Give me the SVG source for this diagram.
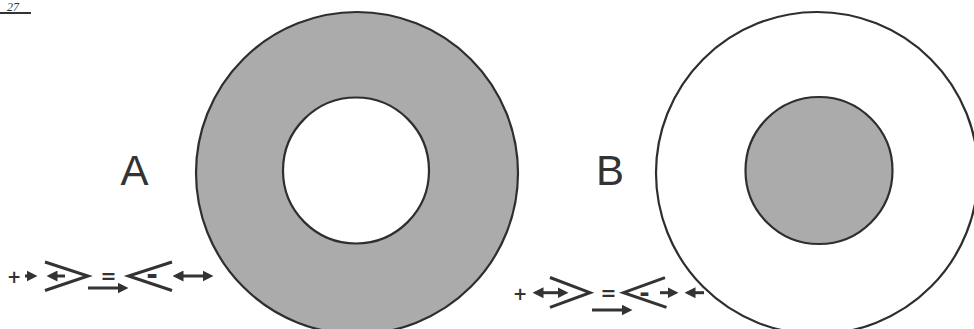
<svg xmlns="http://www.w3.org/2000/svg" width="974" height="329" viewBox="0 0 974 329">
<style>
.ring{stroke:#2e2e2e;stroke-width:2.2}
.gray{fill:#ababab}
.white{fill:#ffffff}
.lbl{font-family:"Liberation Sans",Arial,sans-serif;font-size:42px;fill:#333;text-anchor:middle}
.sym{font-family:"DejaVu Sans","Liberation Sans",sans-serif;font-weight:bold;fill:#333;text-anchor:middle}
.ln{stroke:#333;stroke-width:3;fill:none}
.ar{stroke:#333;stroke-width:3;fill:none;marker-end:url(#ah)}
.ar2{stroke:#333;stroke-width:3;fill:none;marker-end:url(#ah);marker-start:url(#ah)}
</style>
<defs>
<marker id="ah" viewBox="0 0 10 10" refX="5" refY="5" markerWidth="11" markerHeight="11" markerUnits="userSpaceOnUse" orient="auto-start-reverse">
<path d="M0,0 L10,5 L0,10 z" fill="#333"/>
</marker>
</defs>
<rect width="974" height="329" fill="#ffffff"/>
<g id="page-number">
<text x="13" y="11" font-family="Liberation Serif,serif" font-style="italic" font-size="12" fill="#333" text-anchor="middle">27</text>
<line x1="0" y1="13" x2="31" y2="13" stroke="#333" stroke-width="2"/>
</g>
<g id="diagram-a">
<circle class="ring gray" cx="357" cy="173" r="161"/>
<circle class="ring white" cx="356" cy="170.5" r="73"/>
<text class="lbl" x="134.5" y="185">A</text>
</g>
<g id="diagram-b">
<circle class="ring white" cx="817" cy="173" r="161"/>
<circle class="ring gray" cx="819" cy="170.5" r="73.5"/>
<text class="lbl" x="610" y="185">B</text>
</g>
<g id="legend-a">
<text class="sym" x="14" y="283" font-size="17">+</text>
<line class="ar" x1="25" y1="276" x2="32" y2="276"/>
<line class="ar" x1="65" y1="276" x2="52" y2="276"/>
<polyline class="ln" points="45,262 88,276 45,290.5"/>
<text class="sym" x="108.5" y="283" font-size="19">=</text>
<line class="ar" x1="88" y1="288" x2="123" y2="288"/>
<polyline class="ln" points="172,262 128.5,276 172,290.5"/>
<text class="sym" x="152" y="283.5" font-size="28">-</text>
<line class="ar2" x1="178" y1="276" x2="208" y2="276"/>
</g>
<g id="legend-b">
<text class="sym" x="520" y="300" font-size="17">+</text>
<line class="ar2" x1="538" y1="292.7" x2="563" y2="292.7"/>
<polyline class="ln" points="550,277.5 590,292.7 550,307.3"/>
<text class="sym" x="608.5" y="300" font-size="19">=</text>
<line class="ar" x1="592" y1="310" x2="627" y2="310"/>
<polyline class="ln" points="665,277.7 623.5,292.7 666.5,307.3"/>
<text class="sym" x="644.5" y="300.5" font-size="25">-</text>
<line class="ar" x1="660" y1="292.7" x2="673" y2="292.7"/>
<line class="ar" x1="704" y1="292.7" x2="690" y2="292.7"/>
</g>
</svg>
